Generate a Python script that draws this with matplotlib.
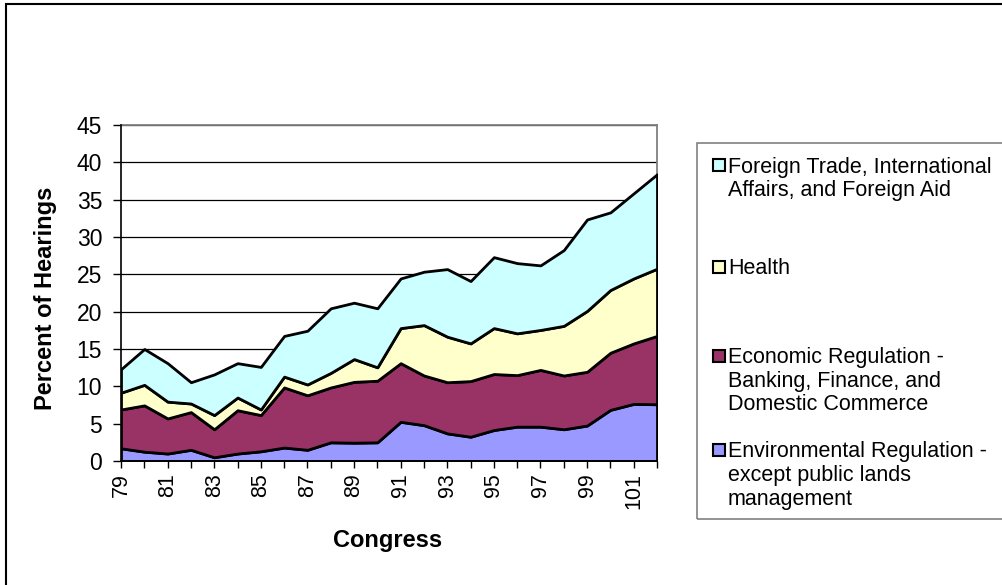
import matplotlib
matplotlib.use("Agg")
import matplotlib.pyplot as plt
from matplotlib.patches import Rectangle
import numpy as np

plt.rcParams['font.family'] = ['Liberation Sans', 'DejaVu Sans']

# Congress numbers
congress = list(range(79, 103))

# Percent of hearings by topic (each series on its own, stacked in the chart)
environmental = [1.7, 1.25, 1.0, 1.5, 0.5, 1.0, 1.3, 1.8, 1.5, 2.5, 2.45, 2.5,
                 5.25, 4.8, 3.7, 3.25, 4.15, 4.6, 4.6, 4.25, 4.75, 6.85, 7.65, 7.6]
economic = [5.2, 6.2, 4.7, 5.05, 3.75, 5.8, 4.85, 8.05, 7.3, 7.35, 8.15, 8.25,
            7.85, 6.65, 6.85, 7.45, 7.5, 6.9, 7.6, 7.2, 7.2, 7.65, 8.1, 9.15]
health = [2.25, 2.75, 2.25, 1.15, 1.9, 1.7, 0.75, 1.45, 1.45, 1.95, 3.05, 1.8,
          4.7, 6.75, 6.1, 5.05, 6.15, 5.6, 5.35, 6.65, 8.15, 8.4, 8.7, 9.0]
foreign = [3.15, 4.8, 5.15, 2.85, 5.45, 4.6, 5.7, 5.45, 7.2, 8.65, 7.55, 7.9,
           6.65, 7.15, 9.05, 8.35, 9.5, 9.4, 8.65, 10.15, 12.25, 10.4, 11.4, 12.65]

series_labels = [
    "Environmental Regulation -\nexcept public lands\nmanagement",
    "Economic Regulation -\nBanking, Finance, and\nDomestic Commerce",
    "Health",
    "Foreign Trade, International\nAffairs, and Foreign Aid",
]
series_colors = ["#9999FF", "#993366", "#FFFFCC", "#CCFFFF"]

W, H = 1003, 585
fig = plt.figure(figsize=(W / 100, H / 100), dpi=100)


def fx(x):
    return x / W


def fy(y):
    return 1 - y / H


# outer chart frame (runs off the right and bottom edges)
fig.add_artist(Rectangle((fx(6), fy(700)), fx(1100 - 6), fy(4) - fy(700),
                         transform=fig.transFigure, fill=False,
                         edgecolor="black", linewidth=1.5, clip_on=False))

ax = fig.add_axes([fx(121), fy(461), fx(657) - fx(121), fy(125) - fy(461)])

ax.stackplot(congress, environmental, economic, health, foreign,
             colors=series_colors, edgecolor="black", linewidth=2.0, zorder=3)

ax.set_xlim(79, 102)
ax.set_ylim(0, 45)
ax.set_yticks(np.arange(0, 46, 5))
ax.set_xticks(congress)
ax.set_xticklabels([str(c) if (c - 79) % 2 == 0 else "" for c in congress],
                   rotation=90)
ax.tick_params(axis="both", direction="out", width=1, colors="black")
ax.tick_params(axis="x", length=5, pad=4, labelsize=15.5)
ax.tick_params(axis="y", length=5.5, pad=8, labelsize=16.5)
ax.yaxis.grid(True, color="black", linewidth=0.9, zorder=1)
ax.set_axisbelow(True)

for side in ("top", "right"):
    ax.spines[side].set_color("#808080")
    ax.spines[side].set_linewidth(1.3)
for side in ("left", "bottom"):
    ax.spines[side].set_color("black")
    ax.spines[side].set_linewidth(1.2)
    ax.spines[side].set_zorder(4)

fig.text(fx(46), fy(298), "Percent of Hearings", rotation=90, ha="center",
         va="center", fontsize=17, fontweight="bold")
fig.text(fx(388), fy(541), "Congress", ha="center", va="center",
         fontsize=17, fontweight="bold")

# legend box (extends past the right edge)
fig.add_artist(Rectangle((fx(697), fy(519)), fx(1100 - 697), fy(143) - fy(519),
                         transform=fig.transFigure, fill=False,
                         edgecolor="#808080", linewidth=1.2, clip_on=False))

legend_rows = [165, 267, 356, 450]
line_gap = 23.5
for label, color, row in zip(series_labels[::-1], series_colors[::-1], legend_rows):
    fig.add_artist(Rectangle((fx(713), fy(row + 6)), fx(12), fy(row - 6) - fy(row + 6),
                             transform=fig.transFigure, facecolor=color,
                             edgecolor="black", linewidth=1.5))
    for i, line in enumerate(label.split("\n")):
        fig.text(fx(728), fy(row + 7.5 + i * line_gap), line, ha="left",
                 va="baseline", fontsize=15.5)

fig.savefig("out.png", dpi=100)
